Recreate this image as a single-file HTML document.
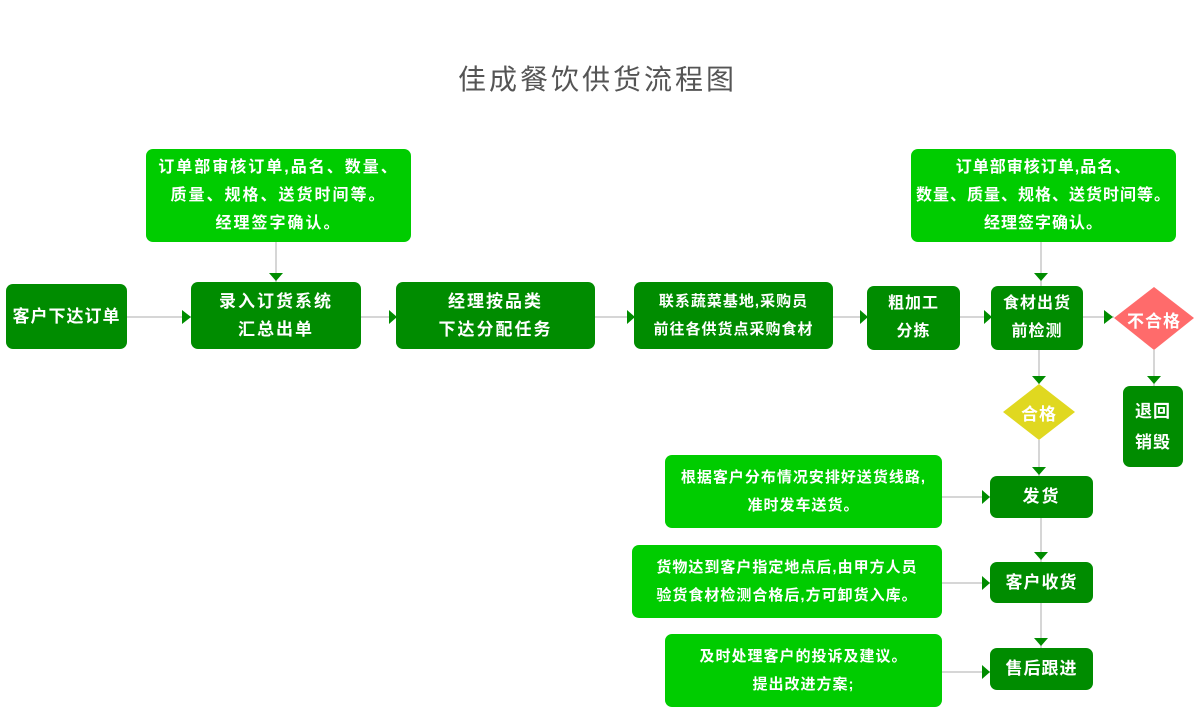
<!DOCTYPE html>
<html><head><meta charset="utf-8"><style>
body{margin:0;width:1200px;height:710px;background:#fff;position:relative;overflow:hidden;font-family:"Liberation Sans","Noto Sans CJK SC",sans-serif;}
.b{position:absolute;border-radius:7px;color:#fff;font-weight:bold;display:flex;align-items:center;justify-content:center;text-align:center;box-sizing:border-box;white-space:nowrap;}
.l{background:#00cc00;font-size:15px;line-height:28px;letter-spacing:1px;}
.d{background:#008c00;font-size:17px;line-height:28px;letter-spacing:2px;}
.t{position:absolute;left:0;width:1195px;top:58px;text-align:center;font-size:28px;color:#555;letter-spacing:3px;}
svg{position:absolute;left:0;top:0;}
.dt{position:absolute;color:#fff;font-weight:bold;font-size:17px;text-align:center;letter-spacing:1px;}
</style></head><body>
<div class="t">佳成餐饮供货流程图</div>
<svg width="1200" height="710">
<g stroke="#c8c8c8" stroke-width="1.5" fill="none">
<line x1="127" y1="317" x2="191" y2="317"/>
<line x1="361" y1="317" x2="396" y2="317"/>
<line x1="595" y1="317" x2="634" y2="317"/>
<line x1="833" y1="317" x2="867" y2="317"/>
<line x1="960" y1="317" x2="991" y2="317"/>
<line x1="1083" y1="317" x2="1114" y2="317"/>
<line x1="276" y1="242" x2="276" y2="282"/>
<line x1="1041" y1="242" x2="1041" y2="286"/>
<line x1="1039" y1="350" x2="1039" y2="384"/>
<line x1="1154" y1="350" x2="1154" y2="386"/>
<line x1="1039" y1="440" x2="1039" y2="476"/>
<line x1="1041" y1="518" x2="1041" y2="562"/>
<line x1="1041" y1="603" x2="1041" y2="648"/>
<line x1="942" y1="497" x2="990" y2="497"/>
<line x1="942" y1="583" x2="990" y2="583"/>
<line x1="942" y1="672" x2="990" y2="672"/>
</g>
<g fill="#008c00">
<polygon points="182,310 191,317 182,324"/>
<polygon points="389,310 397,317 389,324"/>
<polygon points="627,310 635,317 627,324"/>
<polygon points="860,310 868,317 860,324"/>
<polygon points="984,310 992,317 984,324"/>
<polygon points="1104,310 1113,317 1104,324"/>
<polygon points="982,490 990,497 982,504"/>
<polygon points="982,576 990,583 982,590"/>
<polygon points="982,665 990,672 982,679"/>
<polygon points="269,273 283,273 276,281"/>
<polygon points="1034,273 1048,273 1041,281"/>
<polygon points="1032,376 1046,376 1039,384"/>
<polygon points="1147,376 1161,376 1154,384"/>
<polygon points="1032,467 1046,467 1039,475"/>
<polygon points="1034,552 1048,552 1041,560"/>
<polygon points="1034,638 1048,638 1041,646"/>
</g>
<polygon points="1154,287 1194,318 1154,350 1114,318" fill="#ff6b6b"/>
<polygon points="1039,384 1075,412 1039,440 1003,412" fill="#e0d820"/>
</svg>
<div class="b l" style="left:146px;top:149px;width:265px;height:93px;font-size:16px;letter-spacing:2px;">订单部审核订单,品名、数量、<br>质量、规格、送货时间等。<br>经理签字确认。</div>
<div class="b l" style="left:911px;top:149px;width:265px;height:93px;font-size:16px;letter-spacing:1px;">订单部审核订单,品名、<br>数量、质量、规格、送货时间等。<br>经理签字确认。</div>
<div class="b d" style="left:6px;top:284px;width:121px;height:65px;letter-spacing:1px;">客户下达订单</div>
<div class="b d" style="left:191px;top:282px;width:170px;height:67px;">录入订货系统<br>汇总出单</div>
<div class="b d" style="left:396px;top:282px;width:199px;height:67px;">经理按品类<br>下达分配任务</div>
<div class="b d" style="left:634px;top:282px;width:199px;height:67px;font-size:15px;letter-spacing:1px;">联系蔬菜基地,采购员<br>前往各供货点采购食材</div>
<div class="b d" style="left:867px;top:286px;width:93px;height:64px;font-size:16px;letter-spacing:1px;">粗加工<br>分拣</div>
<div class="b d" style="left:991px;top:286px;width:92px;height:64px;font-size:16px;letter-spacing:1px;">食材出货<br>前检测</div>
<div class="dt" style="left:1114px;top:307px;width:80px;">不合格</div>
<div class="dt" style="left:1003px;top:400px;width:72px;">合格</div>
<div class="b d" style="left:1123px;top:386px;width:60px;height:81px;line-height:31px;letter-spacing:1px;">退回<br>销毁</div>
<div class="b d" style="left:990px;top:476px;width:103px;height:42px;">发货</div>
<div class="b d" style="left:990px;top:562px;width:103px;height:41px;letter-spacing:1px;">客户收货</div>
<div class="b d" style="left:990px;top:648px;width:103px;height:42px;letter-spacing:1px;">售后跟进</div>
<div class="b l" style="left:665px;top:455px;width:277px;height:73px;">根据客户分布情况安排好送货线路,<br>准时发车送货。</div>
<div class="b l" style="left:632px;top:545px;width:310px;height:73px;">货物达到客户指定地点后,由甲方人员<br>验货食材检测合格后,方可卸货入库。</div>
<div class="b l" style="left:665px;top:634px;width:277px;height:73px;">及时处理客户的投诉及建议。<br>提出改进方案;</div>
</body></html>
